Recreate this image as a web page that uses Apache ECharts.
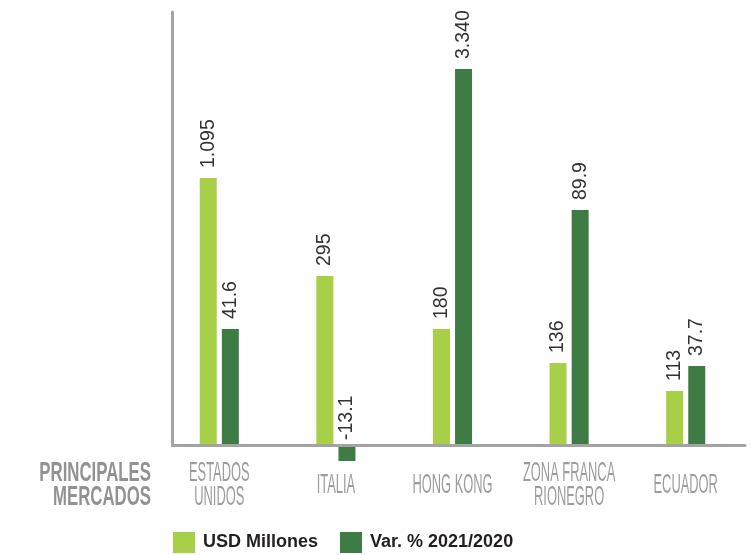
<!DOCTYPE html>
<html><head><meta charset="utf-8">
<script src="https://cdn.jsdelivr.net/npm/echarts@6/dist/echarts.min.js"></script>
<style>html,body{margin:0;padding:0;background:#fff}#c{width:751px;height:555px}</style>
</head><body><div id="c"></div>
<script>
const categories = ['ESTADOS\nUNIDOS', 'ITALIA', 'HONG KONG', 'ZONA FRANCA\nRIONEGRO', 'ECUADOR'];
const seriesNames = ['USD Millones', 'Var. % 2021/2020'];
const usdLabels = ['1.095', '295', '180', '136', '113'];
const varLabels = ['41.6', '-13.1', '3.340', '89.9', '37.7'];
// The original chart is not drawn to scale: bar lengths as drawn (relative units)
const usdBarLengths = [267, 169, 116, 82, 54];
const varBarLengths = [116, -16, 376, 235, 79];
const axisTitle = 'PRINCIPALES\nMERCADOS';

const LIGHT = '#a7cf47', DARK = '#3e7b45', GRAY = '#a3a3a3';
const FONT = "'Liberation Sans', Arial, sans-serif";

const chart = echarts.init(document.getElementById('c'), null, {renderer: 'canvas'});

function valueLabel(labels) {
  return {
    show: true, position: 'top', rotate: 90, align: 'left', verticalAlign: 'middle',
    distance: 10, fontFamily: FONT, fontSize: 19.5, color: '#333',
    formatter: p => labels[p.dataIndex]
  };
}

chart.setOption({
  animation: false,
  grid: [
    {left: 161, right: 7, top: 12, bottom: 90},
    {left: 172.5, right: 6, top: 12, bottom: 110}
  ],
  xAxis: [
    {type: 'category', gridIndex: 0, data: categories, show: false},
    {type: 'value', gridIndex: 1, min: 0, max: 1, z: 10,
     axisLine: {show: true, onZero: false, lineStyle: {color: GRAY, width: 3}},
     axisTick: {show: false}, axisLabel: {show: false}, splitLine: {show: false}}
  ],
  yAxis: [
    {type: 'value', gridIndex: 0, min: -20, max: 433, show: false},
    {type: 'value', gridIndex: 1, min: 0, max: 1, z: 10,
     axisLine: {show: true, onZero: false, lineStyle: {color: GRAY, width: 3}},
     axisTick: {show: false}, axisLabel: {show: false}, splitLine: {show: false}}
  ],
  legend: {
    data: seriesNames, left: 173, top: 532, padding: 0, itemWidth: 22, itemHeight: 21, itemGap: 22,
    icon: 'rect',
    textStyle: {fontFamily: FONT, fontSize: 18, fontWeight: 'bold', color: '#231f20', padding: [0, 0, 0, 3]}
  },
  graphic: [{
    type: 'text', x: 151, y: 485, scaleX: 0.6, silent: true,
    style: {text: axisTitle, fontFamily: FONT, fontSize: 28, fontWeight: 'bold', fill: '#929292',
            align: 'right', verticalAlign: 'middle', lineHeight: 24}
  }],
  series: [
    {name: seriesNames[0], type: 'bar', xAxisIndex: 0, yAxisIndex: 0, barWidth: 17, barGap: '30%',
     itemStyle: {color: LIGHT}, data: usdBarLengths, label: valueLabel(usdLabels)},
    {name: seriesNames[1], type: 'bar', xAxisIndex: 0, yAxisIndex: 0, barWidth: 17, barGap: '30%',
     itemStyle: {color: DARK},
     data: varBarLengths.map(v => v < 0 ? {value: v, label: {distance: 5}} : v),
     label: valueLabel(varLabels)},
    {type: 'custom', xAxisIndex: 0, yAxisIndex: 0, silent: true, clip: false,
     data: categories.map((c, i) => [i, 0]), encode: {x: 0, y: 1},
     renderItem: function (params, api) {
       const i = api.value(0);
       const p = api.coord([i, 0]);
       return {type: 'text', x: p[0], y: p[1] + 40, scaleX: 0.46,
         style: {text: categories[i], fontFamily: FONT, fontSize: 28, fill: '#9c9c9c',
                 align: 'center', verticalAlign: 'middle', lineHeight: 24}};
     }}
  ]
});
</script></body></html>
